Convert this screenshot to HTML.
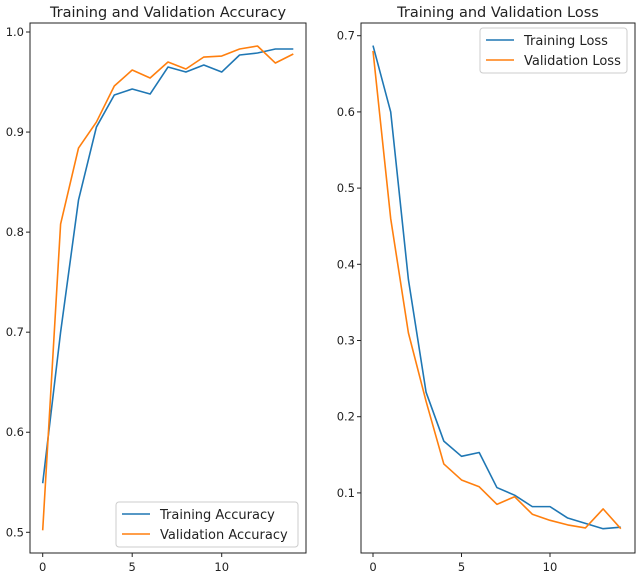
<!DOCTYPE html>
<html><head><meta charset="utf-8"><style>
body{margin:0;background:#fff}
svg{display:block;font-family:"DejaVu Sans","Liberation Sans",sans-serif}
</style></head><body>
<svg width="640" height="574" viewBox="0 0 640 574">
<g id="left"></g>
<g id="right"></g>
</svg>
<script>
const epochs=[0,1,2,3,4,5,6,7,8,9,10,11,12,13,14];
const trainAcc=[0.549,0.70,0.832,0.905,0.937,0.943,0.938,0.965,0.960,0.967,0.960,0.977,0.979,0.983,0.983];
const valAcc=[0.502,0.808,0.884,0.910,0.946,0.962,0.954,0.970,0.963,0.975,0.976,0.983,0.986,0.969,0.978];
const trainLoss=[0.687,0.600,0.380,0.232,0.168,0.148,0.153,0.107,0.097,0.082,0.082,0.067,0.060,0.053,0.055];
const valLoss=[0.680,0.460,0.310,0.220,0.138,0.117,0.108,0.085,0.095,0.072,0.064,0.058,0.054,0.079,0.053];
const xTicks=[0,5,10];
const accTicks=[0.5,0.6,0.7,0.8,0.9,1.0];
const lossTicks=[0.1,0.2,0.3,0.4,0.5,0.6,0.7];
const NS='http://www.w3.org/2000/svg';
function mk(p,t,a){const e=document.createElementNS(NS,t);for(const k in a)e.setAttribute(k,a[k]);p.appendChild(e);return e;}
function draw(g,box,xs,ys,yt,yfmt,series,title,legend){
  mk(g,'rect',{x:box.l,y:box.t,width:box.r-box.l,height:box.b-box.t,fill:'none',stroke:'#222','stroke-width':1});
  const tt=mk(g,'text',{x:(box.l+box.r)/2,y:box.t-6,'text-anchor':'middle','font-size':14.5,fill:'#222'});tt.textContent=title;
  
  
  xTicks.forEach(v=>{const x=xs(v);mk(g,'line',{x1:x,x2:x,y1:box.b,y2:box.b+4,stroke:'#222'});
    const t=mk(g,'text',{x:x,y:box.b+18,'text-anchor':'middle','font-size':11.5,fill:'#222'});t.textContent=v;
    
    });
  yt.forEach(v=>{const y=ys(v);mk(g,'line',{x1:box.l-4,x2:box.l,y1:y,y2:y,stroke:'#222'});
    const t=mk(g,'text',{x:box.l-6,y:y+4,'text-anchor':'end','font-size':11.5,fill:'#222'});t.textContent=yfmt(v);
    
    });
  series.forEach(s=>{const p=mk(g,'polyline',{points:s.d.map((v,i)=>xs(epochs[i])+','+ys(v)).join(' '),fill:'none',stroke:s.c,'stroke-width':1.6,'stroke-linejoin':'round'});
    
    });
  const lg=mk(g,'g',{});
  
  
  mk(lg,'rect',{x:legend.x,y:legend.y,width:legend.w,height:45,rx:3,fill:'#fff','fill-opacity':0.8,stroke:'#ccc'});
  series.forEach((s,i)=>{const y=legend.y+12+i*20;mk(lg,'line',{x1:legend.x+6,x2:legend.x+34,y1:y,y2:y,stroke:s.c,'stroke-width':1.6});
    const t=mk(lg,'text',{x:legend.x+44,y:y+5,'font-size':13,fill:'#222'});t.textContent=s.label;
    
    });
}
const L={l:30,r:306,t:23,b:553};
draw(document.getElementById('left'),L,v=>42.7+v*17.9,v=>32+(1.0-v)*1000.6,accTicks,v=>v.toFixed(1),
 [{d:trainAcc,c:'#1f77b4',label:'Training Accuracy',n:'training-accuracy-line'},{d:valAcc,c:'#ff7f0e',label:'Validation Accuracy',n:'validation-accuracy-line'}],
 'Training and Validation Accuracy',{x:116,y:502,w:182});
const R={l:361,r:635,t:23,b:553};
draw(document.getElementById('right'),R,v=>373+v*17.7,v=>35.7+(0.7-v)*762,lossTicks,v=>v.toFixed(1),
 [{d:trainLoss,c:'#1f77b4',label:'Training Loss',n:'training-loss-line'},{d:valLoss,c:'#ff7f0e',label:'Validation Loss',n:'validation-loss-line'}],
 'Training and Validation Loss',{x:480,y:28,w:147});
</script>
</body></html>
